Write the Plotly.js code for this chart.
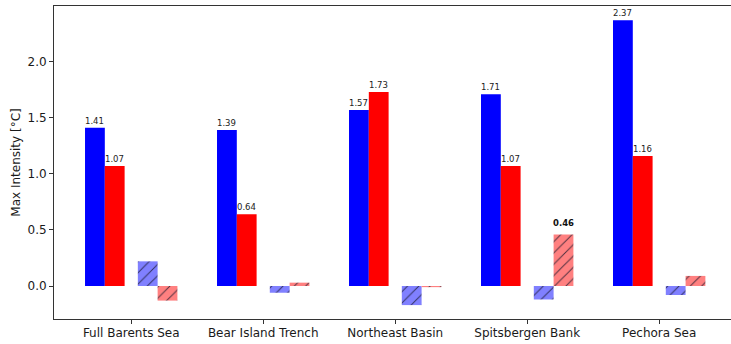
<!DOCTYPE html>
<html>
<head>
<meta charset="utf-8">
<script src="https://cdn.plot.ly/plotly-3.0.1.min.js"></script>
<style>
  html, body { margin: 0; padding: 0; background: #fff; }
  #chart { width: 731px; height: 344px; }
</style>
</head>
<body>
<div id="chart"></div>
<script>
// Regions and their maximum intensity values (°C)
const regions = ['Full Barents Sea', 'Bear Island Trench', 'Northeast Basin', 'Spitsbergen Bank', 'Pechora Sea'];
const blueSolid = [1.41, 1.39, 1.57, 1.71, 2.37];
const redSolid = [1.07, 0.64, 1.73, 1.07, 1.16];
const blueHatched = [0.22, -0.06, -0.17, -0.12, -0.08];
const redHatched = [-0.13, 0.03, -0.01, 0.46, 0.09];
const yTicks = [0.0, 0.5, 1.0, 1.5, 2.0];

const FONT = 'DejaVu Sans, sans-serif';
const W = 0.15;

function solidBar(vals, color, offset) {
  return {
    type: 'bar', x: regions, y: vals, offset: offset, width: W,
    marker: { color: color, line: { width: 0 } },
    hoverinfo: 'y', showlegend: false
  };
}
function hatchedBar(vals, color, offset) {
  return {
    type: 'bar', x: regions, y: vals, offset: offset, width: W,
    marker: {
      color: color, line: { width: 0 },
      pattern: { shape: '/', fgcolor: 'rgba(20,20,40,0.75)', bgcolor: color, size: 8, solidity: 0.12 }
    },
    hoverinfo: 'y', showlegend: false
  };
}

const traces = [
  solidBar(blueSolid, '#0000ff', -0.35),
  solidBar(redSolid, '#ff0000', -0.20),
  hatchedBar(blueHatched, '#8080ff', 0.05),
  hatchedBar(redHatched, '#ff8080', 0.20)
];

// value labels above the solid bars
const annotations = [];
function labels(vals, center) {
  vals.forEach((v, i) => {
    annotations.push({
      x: i + center, y: v, xref: 'x', yref: 'y', text: v.toFixed(2),
      showarrow: false, yanchor: 'bottom', xanchor: 'center',
      font: { family: FONT, size: 8.5, color: '#222' }
    });
  });
}
labels(blueSolid, -0.275);
labels(redSolid, -0.125);
// highlighted value on the Spitsbergen Bank hatched bar
const hi = regions.indexOf('Spitsbergen Bank');
annotations.push({
  x: hi + 0.275, y: redHatched[hi], xref: 'x', yref: 'y',
  text: '<b>' + redHatched[hi].toFixed(2) + '</b>',
  showarrow: false, yanchor: 'bottom', xanchor: 'center', yshift: 4,
  font: { family: FONT, size: 8.5, color: '#111' }
});

const layout = {
  width: 731, height: 344,
  margin: { l: 54, r: 0, t: 6, b: 25 },
  paper_bgcolor: '#fff', plot_bgcolor: '#fff',
  barmode: 'overlay',
  font: { family: FONT, color: '#1a1a1a' },
  xaxis: {
    type: 'category', range: [-0.585, 4.544],
    showgrid: false, zeroline: false,
    showline: true, mirror: true, linecolor: '#333', linewidth: 1,
    ticks: 'outside', ticklen: 4, tickcolor: '#333', ticklabelstandoff: -1,
    tickfont: { family: FONT, size: 12, color: '#1a1a1a' }
  },
  yaxis: {
    range: [-0.294, 2.496],
    tickvals: yTicks, ticktext: yTicks.map(v => v.toFixed(1)),
    showgrid: false, zeroline: false,
    showline: true, mirror: false, linecolor: '#333', linewidth: 1,
    ticks: 'outside', ticklen: 4, tickcolor: '#333',
    tickfont: { family: FONT, size: 12, color: '#1a1a1a' },
    title: { text: 'Max Intensity [°C]', font: { family: FONT, size: 12, color: '#1a1a1a' }, standoff: 4 }
  },
  annotations: annotations
};

Plotly.newPlot('chart', traces, layout, { displayModeBar: false, staticPlot: true });
</script>
</body>
</html>
